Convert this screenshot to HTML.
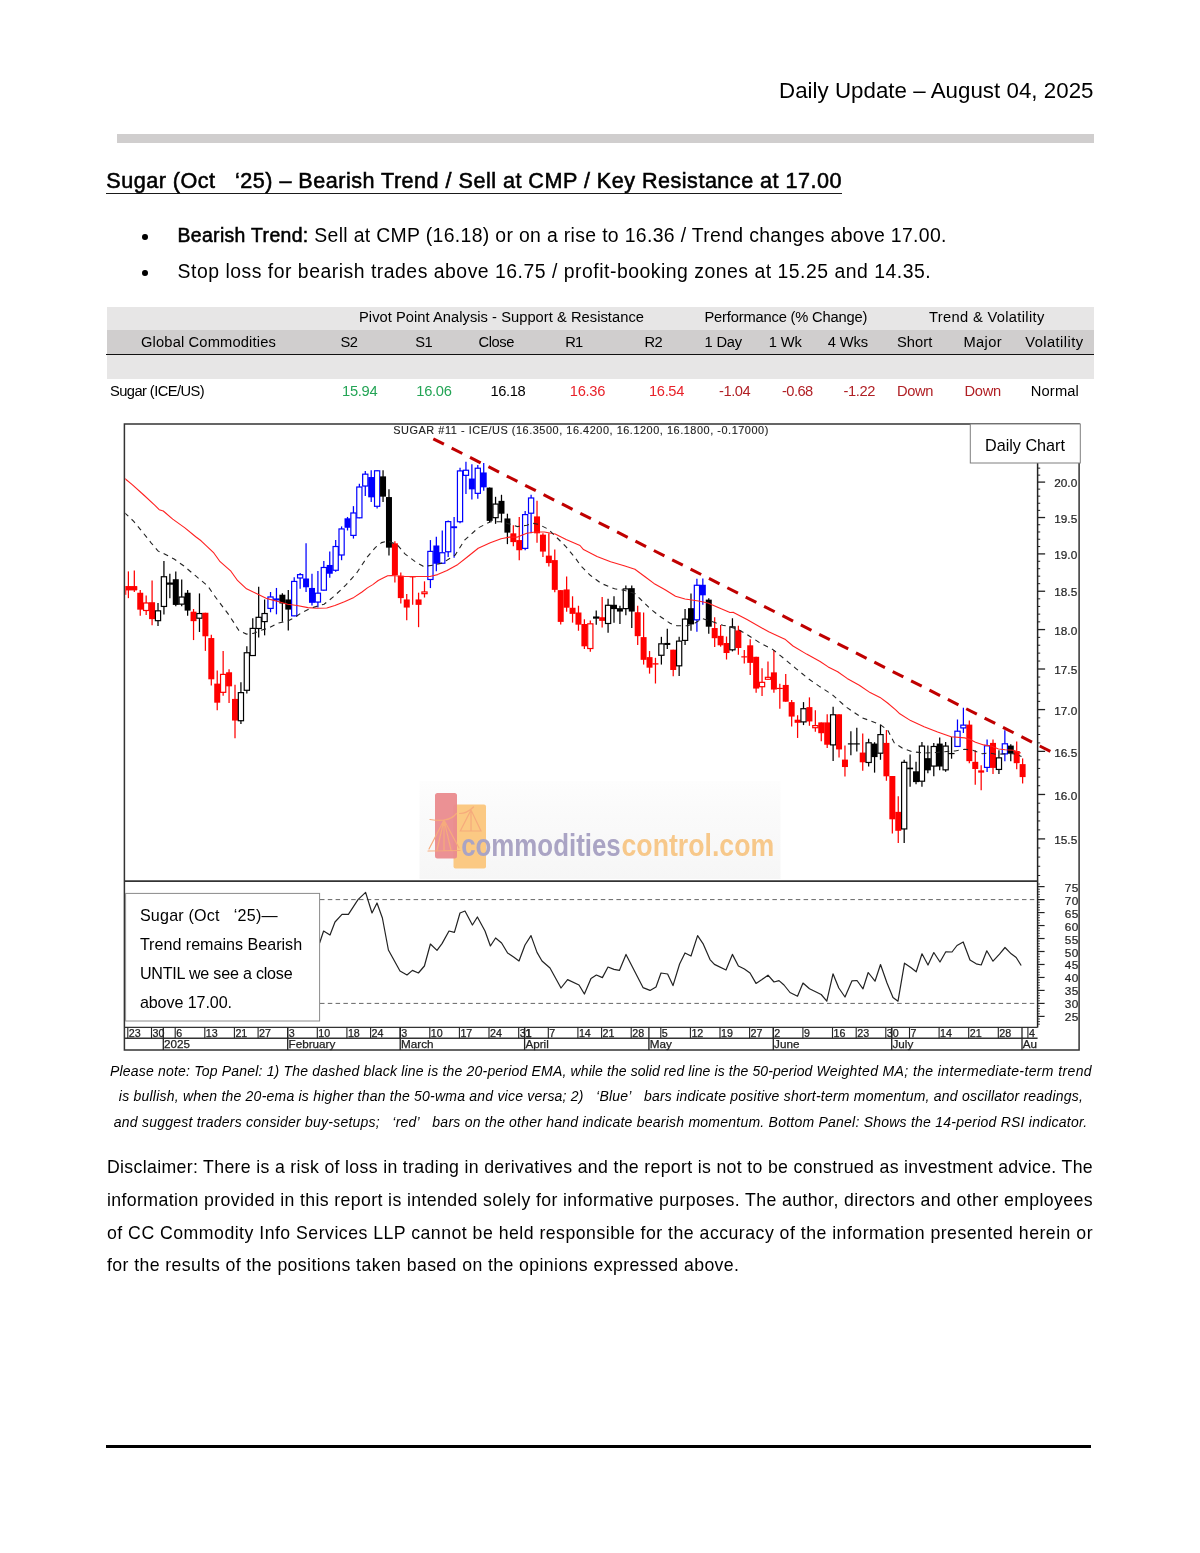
<!DOCTYPE html>
<html lang="en"><head><meta charset="utf-8"><title>Daily Update – August 04, 2025</title>
<style>
html,body{margin:0;padding:0;background:#fff;}
body{width:1200px;height:1553px;position:relative;overflow:hidden;font-family:"Liberation Sans", sans-serif;color:#000;}
.t{position:absolute;white-space:pre;line-height:normal;margin:0;padding:0;}
.r{position:absolute;}
#txt{position:absolute;left:0;top:0;width:1200px;height:1553px;will-change:transform;}
b,.sb{font-weight:400;-webkit-text-stroke:0.55px #000;}
</style></head>
<body>
<div class="r" style="left:117px;top:134px;width:977px;height:9px;background:#d0cece;"></div>
<div class="r" style="left:106.3px;top:192.5px;width:735.7px;height:1.25px;background:#1a1a1a;"></div>
<div class="r" style="left:107px;top:307px;width:987px;height:23px;background:#e7e6e6;"></div>
<div class="r" style="left:107px;top:330px;width:987px;height:24px;background:#d0cece;"></div>
<div class="r" style="left:106.3px;top:353.6px;width:987.7px;height:1.3999999999999773px;background:#111;"></div>
<div class="r" style="left:107px;top:355px;width:987px;height:23.69999999999999px;background:#e7e6e6;"></div>
<div class="r" style="left:142.4px;top:234.2px;width:5.8px;height:5.8px;border-radius:50%;background:#000;"></div>
<div class="r" style="left:142.4px;top:270.4px;width:5.8px;height:5.8px;border-radius:50%;background:#000;"></div>
<div class="r" style="left:106px;top:1445px;width:985px;height:3px;background:#000;"></div>
<svg width="1200" height="1553" viewBox="0 0 1200 1553" style="position:absolute;left:0;top:0;">
<rect x="124.4" y="424" width="954.7" height="626" fill="#fff" stroke="#333" stroke-width="1.5"/>
<filter id="wbl" x="-5%" y="-5%" width="110%" height="110%"><feGaussianBlur stdDeviation="0.55"/></filter>
<g>
<linearGradient id="wg" x1="0" y1="0" x2="0" y2="1"><stop offset="0" stop-color="#fdfdfd"/><stop offset="0.35" stop-color="#fafafa"/><stop offset="1" stop-color="#f6f6f6"/></linearGradient>
<rect x="419.5" y="781" width="361" height="98" fill="url(#wg)"/>
<g filter="url(#wbl)">
<rect x="453.5" y="804.5" width="32.5" height="64" rx="2" fill="#fbc983"/>
<rect x="435" y="793" width="22" height="65.5" rx="2.5" fill="#ea8b8e" fill-opacity="0.95"/>
<g fill="none" stroke="#f6ab7c" stroke-width="1.2" stroke-linecap="round">
<path d="M444 820 L444 850 M444 820 L429 849 M444 820 L459 848 M444 820 L437 850 M444 820 L451 850 M428 851 L460 850.5 M430 819.5 Q440 821 444 820 Q452 819 456.5 813.5"/>
<path d="M471 810 L471 830.5 M471 810 L460.3 831 L481 831 Z M459.5 813.5 Q467 813.5 473.5 807"/>
</g>
<text x="461.2" y="855.6" font-size="31.5" font-weight="700" fill="#aaa4c4" font-family="Liberation Sans, sans-serif" textLength="159.5" lengthAdjust="spacingAndGlyphs">commodities</text>
<text x="621.5" y="855.6" font-size="31.5" font-weight="700" fill="#f7c88a" font-family="Liberation Sans, sans-serif" textLength="152.7" lengthAdjust="spacingAndGlyphs">control.com</text>
</g>
</g>
<line x1="1037.6" y1="424" x2="1037.6" y2="1027.5" stroke="#222" stroke-width="1.5"/>
<line x1="124.3" y1="881.1" x2="1037.6" y2="881.1" stroke="#333" stroke-width="1.8"/>
<line x1="124.3" y1="1027.4" x2="1037.6" y2="1027.4" stroke="#333" stroke-width="1.4"/>
<line x1="124.3" y1="1038.2" x2="1037.6" y2="1038.2" stroke="#333" stroke-width="1.4"/>
<line x1="320" y1="899.6" x2="1037.6" y2="899.6" stroke="#666" stroke-width="1" stroke-dasharray="4.5,3.3"/>
<line x1="320" y1="1003.4" x2="1037.6" y2="1003.4" stroke="#666" stroke-width="1" stroke-dasharray="4.5,3.3"/>
<filter id="bl2" x="-2%" y="-2%" width="104%" height="104%"><feGaussianBlur stdDeviation="0.35"/></filter>
<g filter="url(#bl2)">
<line x1="1037.6" y1="875.50" x2="1040.1999999999998" y2="875.50" stroke="#222" stroke-width="1"/>
<line x1="1037.6" y1="866.26" x2="1040.1999999999998" y2="866.26" stroke="#222" stroke-width="1"/>
<line x1="1037.6" y1="857.08" x2="1040.1999999999998" y2="857.08" stroke="#222" stroke-width="1"/>
<line x1="1037.6" y1="847.96" x2="1040.1999999999998" y2="847.96" stroke="#222" stroke-width="1"/>
<line x1="1037.6" y1="838.90" x2="1045.1" y2="838.90" stroke="#222" stroke-width="1.3"/>
<text x="1054.2" y="844.10" font-size="11.8" fill="#222" stroke="#222" stroke-width="0.2" font-family="Liberation Sans, sans-serif" textLength="23">15.5</text>
<line x1="1037.6" y1="829.90" x2="1040.1999999999998" y2="829.90" stroke="#222" stroke-width="1"/>
<line x1="1037.6" y1="820.95" x2="1040.1999999999998" y2="820.95" stroke="#222" stroke-width="1"/>
<line x1="1037.6" y1="812.06" x2="1040.1999999999998" y2="812.06" stroke="#222" stroke-width="1"/>
<line x1="1037.6" y1="803.23" x2="1040.1999999999998" y2="803.23" stroke="#222" stroke-width="1"/>
<line x1="1037.6" y1="794.46" x2="1045.1" y2="794.46" stroke="#222" stroke-width="1.3"/>
<text x="1054.2" y="799.66" font-size="11.8" fill="#222" stroke="#222" stroke-width="0.2" font-family="Liberation Sans, sans-serif" textLength="23">16.0</text>
<line x1="1037.6" y1="785.73" x2="1040.1999999999998" y2="785.73" stroke="#222" stroke-width="1"/>
<line x1="1037.6" y1="777.07" x2="1040.1999999999998" y2="777.07" stroke="#222" stroke-width="1"/>
<line x1="1037.6" y1="768.45" x2="1040.1999999999998" y2="768.45" stroke="#222" stroke-width="1"/>
<line x1="1037.6" y1="759.89" x2="1040.1999999999998" y2="759.89" stroke="#222" stroke-width="1"/>
<line x1="1037.6" y1="751.38" x2="1045.1" y2="751.38" stroke="#222" stroke-width="1.3"/>
<text x="1054.2" y="756.58" font-size="11.8" fill="#222" stroke="#222" stroke-width="0.2" font-family="Liberation Sans, sans-serif" textLength="23">16.5</text>
<line x1="1037.6" y1="742.92" x2="1040.1999999999998" y2="742.92" stroke="#222" stroke-width="1"/>
<line x1="1037.6" y1="734.52" x2="1040.1999999999998" y2="734.52" stroke="#222" stroke-width="1"/>
<line x1="1037.6" y1="726.16" x2="1040.1999999999998" y2="726.16" stroke="#222" stroke-width="1"/>
<line x1="1037.6" y1="717.85" x2="1040.1999999999998" y2="717.85" stroke="#222" stroke-width="1"/>
<line x1="1037.6" y1="709.59" x2="1045.1" y2="709.59" stroke="#222" stroke-width="1.3"/>
<text x="1054.2" y="714.79" font-size="11.8" fill="#222" stroke="#222" stroke-width="0.2" font-family="Liberation Sans, sans-serif" textLength="23">17.0</text>
<line x1="1037.6" y1="701.38" x2="1040.1999999999998" y2="701.38" stroke="#222" stroke-width="1"/>
<line x1="1037.6" y1="693.22" x2="1040.1999999999998" y2="693.22" stroke="#222" stroke-width="1"/>
<line x1="1037.6" y1="685.11" x2="1040.1999999999998" y2="685.11" stroke="#222" stroke-width="1"/>
<line x1="1037.6" y1="677.04" x2="1040.1999999999998" y2="677.04" stroke="#222" stroke-width="1"/>
<line x1="1037.6" y1="669.02" x2="1045.1" y2="669.02" stroke="#222" stroke-width="1.3"/>
<text x="1054.2" y="674.22" font-size="11.8" fill="#222" stroke="#222" stroke-width="0.2" font-family="Liberation Sans, sans-serif" textLength="23">17.5</text>
<line x1="1037.6" y1="661.04" x2="1040.1999999999998" y2="661.04" stroke="#222" stroke-width="1"/>
<line x1="1037.6" y1="653.11" x2="1040.1999999999998" y2="653.11" stroke="#222" stroke-width="1"/>
<line x1="1037.6" y1="645.22" x2="1040.1999999999998" y2="645.22" stroke="#222" stroke-width="1"/>
<line x1="1037.6" y1="637.38" x2="1040.1999999999998" y2="637.38" stroke="#222" stroke-width="1"/>
<line x1="1037.6" y1="629.58" x2="1045.1" y2="629.58" stroke="#222" stroke-width="1.3"/>
<text x="1054.2" y="634.78" font-size="11.8" fill="#222" stroke="#222" stroke-width="0.2" font-family="Liberation Sans, sans-serif" textLength="23">18.0</text>
<line x1="1037.6" y1="621.83" x2="1040.1999999999998" y2="621.83" stroke="#222" stroke-width="1"/>
<line x1="1037.6" y1="614.12" x2="1040.1999999999998" y2="614.12" stroke="#222" stroke-width="1"/>
<line x1="1037.6" y1="606.45" x2="1040.1999999999998" y2="606.45" stroke="#222" stroke-width="1"/>
<line x1="1037.6" y1="598.82" x2="1040.1999999999998" y2="598.82" stroke="#222" stroke-width="1"/>
<line x1="1037.6" y1="591.23" x2="1045.1" y2="591.23" stroke="#222" stroke-width="1.3"/>
<text x="1054.2" y="596.43" font-size="11.8" fill="#222" stroke="#222" stroke-width="0.2" font-family="Liberation Sans, sans-serif" textLength="23">18.5</text>
<line x1="1037.6" y1="583.68" x2="1040.1999999999998" y2="583.68" stroke="#222" stroke-width="1"/>
<line x1="1037.6" y1="576.18" x2="1040.1999999999998" y2="576.18" stroke="#222" stroke-width="1"/>
<line x1="1037.6" y1="568.71" x2="1040.1999999999998" y2="568.71" stroke="#222" stroke-width="1"/>
<line x1="1037.6" y1="561.29" x2="1040.1999999999998" y2="561.29" stroke="#222" stroke-width="1"/>
<line x1="1037.6" y1="553.90" x2="1045.1" y2="553.90" stroke="#222" stroke-width="1.3"/>
<text x="1054.2" y="559.10" font-size="11.8" fill="#222" stroke="#222" stroke-width="0.2" font-family="Liberation Sans, sans-serif" textLength="23">19.0</text>
<line x1="1037.6" y1="546.55" x2="1040.1999999999998" y2="546.55" stroke="#222" stroke-width="1"/>
<line x1="1037.6" y1="539.24" x2="1040.1999999999998" y2="539.24" stroke="#222" stroke-width="1"/>
<line x1="1037.6" y1="531.97" x2="1040.1999999999998" y2="531.97" stroke="#222" stroke-width="1"/>
<line x1="1037.6" y1="524.74" x2="1040.1999999999998" y2="524.74" stroke="#222" stroke-width="1"/>
<line x1="1037.6" y1="517.54" x2="1045.1" y2="517.54" stroke="#222" stroke-width="1.3"/>
<text x="1054.2" y="522.74" font-size="11.8" fill="#222" stroke="#222" stroke-width="0.2" font-family="Liberation Sans, sans-serif" textLength="23">19.5</text>
<line x1="1037.6" y1="510.38" x2="1040.1999999999998" y2="510.38" stroke="#222" stroke-width="1"/>
<line x1="1037.6" y1="503.26" x2="1040.1999999999998" y2="503.26" stroke="#222" stroke-width="1"/>
<line x1="1037.6" y1="496.17" x2="1040.1999999999998" y2="496.17" stroke="#222" stroke-width="1"/>
<line x1="1037.6" y1="489.12" x2="1040.1999999999998" y2="489.12" stroke="#222" stroke-width="1"/>
<line x1="1037.6" y1="482.10" x2="1045.1" y2="482.10" stroke="#222" stroke-width="1.3"/>
<text x="1054.2" y="487.30" font-size="11.8" fill="#222" stroke="#222" stroke-width="0.2" font-family="Liberation Sans, sans-serif" textLength="23">20.0</text>
<line x1="1037.6" y1="475.12" x2="1040.1999999999998" y2="475.12" stroke="#222" stroke-width="1"/>
<line x1="1037.6" y1="468.17" x2="1040.1999999999998" y2="468.17" stroke="#222" stroke-width="1"/>
<line x1="1037.6" y1="1024.16" x2="1040.0" y2="1024.16" stroke="#222" stroke-width="0.8"/>
<line x1="1037.6" y1="1021.56" x2="1040.0" y2="1021.56" stroke="#222" stroke-width="0.8"/>
<line x1="1037.6" y1="1018.97" x2="1040.0" y2="1018.97" stroke="#222" stroke-width="0.8"/>
<line x1="1037.6" y1="1016.38" x2="1044.6" y2="1016.38" stroke="#222" stroke-width="1.2"/>
<text x="1064.8" y="1021.38" font-size="11.8" fill="#222" stroke="#222" stroke-width="0.2" font-family="Liberation Sans, sans-serif" textLength="13.5">25</text>
<line x1="1037.6" y1="1013.78" x2="1040.0" y2="1013.78" stroke="#222" stroke-width="0.8"/>
<line x1="1037.6" y1="1011.18" x2="1040.0" y2="1011.18" stroke="#222" stroke-width="0.8"/>
<line x1="1037.6" y1="1008.59" x2="1040.0" y2="1008.59" stroke="#222" stroke-width="0.8"/>
<line x1="1037.6" y1="1006.00" x2="1040.0" y2="1006.00" stroke="#222" stroke-width="0.8"/>
<line x1="1037.6" y1="1003.40" x2="1044.6" y2="1003.40" stroke="#222" stroke-width="1.2"/>
<text x="1064.8" y="1008.40" font-size="11.8" fill="#222" stroke="#222" stroke-width="0.2" font-family="Liberation Sans, sans-serif" textLength="13.5">30</text>
<line x1="1037.6" y1="1000.80" x2="1040.0" y2="1000.80" stroke="#222" stroke-width="0.8"/>
<line x1="1037.6" y1="998.21" x2="1040.0" y2="998.21" stroke="#222" stroke-width="0.8"/>
<line x1="1037.6" y1="995.62" x2="1040.0" y2="995.62" stroke="#222" stroke-width="0.8"/>
<line x1="1037.6" y1="993.02" x2="1040.0" y2="993.02" stroke="#222" stroke-width="0.8"/>
<line x1="1037.6" y1="990.42" x2="1044.6" y2="990.42" stroke="#222" stroke-width="1.2"/>
<text x="1064.8" y="995.42" font-size="11.8" fill="#222" stroke="#222" stroke-width="0.2" font-family="Liberation Sans, sans-serif" textLength="13.5">35</text>
<line x1="1037.6" y1="987.83" x2="1040.0" y2="987.83" stroke="#222" stroke-width="0.8"/>
<line x1="1037.6" y1="985.24" x2="1040.0" y2="985.24" stroke="#222" stroke-width="0.8"/>
<line x1="1037.6" y1="982.64" x2="1040.0" y2="982.64" stroke="#222" stroke-width="0.8"/>
<line x1="1037.6" y1="980.04" x2="1040.0" y2="980.04" stroke="#222" stroke-width="0.8"/>
<line x1="1037.6" y1="977.45" x2="1044.6" y2="977.45" stroke="#222" stroke-width="1.2"/>
<text x="1064.8" y="982.45" font-size="11.8" fill="#222" stroke="#222" stroke-width="0.2" font-family="Liberation Sans, sans-serif" textLength="13.5">40</text>
<line x1="1037.6" y1="974.86" x2="1040.0" y2="974.86" stroke="#222" stroke-width="0.8"/>
<line x1="1037.6" y1="972.26" x2="1040.0" y2="972.26" stroke="#222" stroke-width="0.8"/>
<line x1="1037.6" y1="969.66" x2="1040.0" y2="969.66" stroke="#222" stroke-width="0.8"/>
<line x1="1037.6" y1="967.07" x2="1040.0" y2="967.07" stroke="#222" stroke-width="0.8"/>
<line x1="1037.6" y1="964.48" x2="1044.6" y2="964.48" stroke="#222" stroke-width="1.2"/>
<text x="1064.8" y="969.48" font-size="11.8" fill="#222" stroke="#222" stroke-width="0.2" font-family="Liberation Sans, sans-serif" textLength="13.5">45</text>
<line x1="1037.6" y1="961.88" x2="1040.0" y2="961.88" stroke="#222" stroke-width="0.8"/>
<line x1="1037.6" y1="959.28" x2="1040.0" y2="959.28" stroke="#222" stroke-width="0.8"/>
<line x1="1037.6" y1="956.69" x2="1040.0" y2="956.69" stroke="#222" stroke-width="0.8"/>
<line x1="1037.6" y1="954.10" x2="1040.0" y2="954.10" stroke="#222" stroke-width="0.8"/>
<line x1="1037.6" y1="951.50" x2="1044.6" y2="951.50" stroke="#222" stroke-width="1.2"/>
<text x="1064.8" y="956.50" font-size="11.8" fill="#222" stroke="#222" stroke-width="0.2" font-family="Liberation Sans, sans-serif" textLength="13.5">50</text>
<line x1="1037.6" y1="948.90" x2="1040.0" y2="948.90" stroke="#222" stroke-width="0.8"/>
<line x1="1037.6" y1="946.31" x2="1040.0" y2="946.31" stroke="#222" stroke-width="0.8"/>
<line x1="1037.6" y1="943.72" x2="1040.0" y2="943.72" stroke="#222" stroke-width="0.8"/>
<line x1="1037.6" y1="941.12" x2="1040.0" y2="941.12" stroke="#222" stroke-width="0.8"/>
<line x1="1037.6" y1="938.52" x2="1044.6" y2="938.52" stroke="#222" stroke-width="1.2"/>
<text x="1064.8" y="943.52" font-size="11.8" fill="#222" stroke="#222" stroke-width="0.2" font-family="Liberation Sans, sans-serif" textLength="13.5">55</text>
<line x1="1037.6" y1="935.93" x2="1040.0" y2="935.93" stroke="#222" stroke-width="0.8"/>
<line x1="1037.6" y1="933.34" x2="1040.0" y2="933.34" stroke="#222" stroke-width="0.8"/>
<line x1="1037.6" y1="930.74" x2="1040.0" y2="930.74" stroke="#222" stroke-width="0.8"/>
<line x1="1037.6" y1="928.14" x2="1040.0" y2="928.14" stroke="#222" stroke-width="0.8"/>
<line x1="1037.6" y1="925.55" x2="1044.6" y2="925.55" stroke="#222" stroke-width="1.2"/>
<text x="1064.8" y="930.55" font-size="11.8" fill="#222" stroke="#222" stroke-width="0.2" font-family="Liberation Sans, sans-serif" textLength="13.5">60</text>
<line x1="1037.6" y1="922.96" x2="1040.0" y2="922.96" stroke="#222" stroke-width="0.8"/>
<line x1="1037.6" y1="920.36" x2="1040.0" y2="920.36" stroke="#222" stroke-width="0.8"/>
<line x1="1037.6" y1="917.76" x2="1040.0" y2="917.76" stroke="#222" stroke-width="0.8"/>
<line x1="1037.6" y1="915.17" x2="1040.0" y2="915.17" stroke="#222" stroke-width="0.8"/>
<line x1="1037.6" y1="912.58" x2="1044.6" y2="912.58" stroke="#222" stroke-width="1.2"/>
<text x="1064.8" y="917.58" font-size="11.8" fill="#222" stroke="#222" stroke-width="0.2" font-family="Liberation Sans, sans-serif" textLength="13.5">65</text>
<line x1="1037.6" y1="909.98" x2="1040.0" y2="909.98" stroke="#222" stroke-width="0.8"/>
<line x1="1037.6" y1="907.38" x2="1040.0" y2="907.38" stroke="#222" stroke-width="0.8"/>
<line x1="1037.6" y1="904.79" x2="1040.0" y2="904.79" stroke="#222" stroke-width="0.8"/>
<line x1="1037.6" y1="902.20" x2="1040.0" y2="902.20" stroke="#222" stroke-width="0.8"/>
<line x1="1037.6" y1="899.60" x2="1044.6" y2="899.60" stroke="#222" stroke-width="1.2"/>
<text x="1064.8" y="904.60" font-size="11.8" fill="#222" stroke="#222" stroke-width="0.2" font-family="Liberation Sans, sans-serif" textLength="13.5">70</text>
<line x1="1037.6" y1="897.00" x2="1040.0" y2="897.00" stroke="#222" stroke-width="0.8"/>
<line x1="1037.6" y1="894.41" x2="1040.0" y2="894.41" stroke="#222" stroke-width="0.8"/>
<line x1="1037.6" y1="891.82" x2="1040.0" y2="891.82" stroke="#222" stroke-width="0.8"/>
<line x1="1037.6" y1="889.22" x2="1040.0" y2="889.22" stroke="#222" stroke-width="0.8"/>
<line x1="1037.6" y1="886.62" x2="1044.6" y2="886.62" stroke="#222" stroke-width="1.2"/>
<text x="1064.8" y="891.62" font-size="11.8" fill="#222" stroke="#222" stroke-width="0.2" font-family="Liberation Sans, sans-serif" textLength="13.5">75</text>
<line x1="1037.6" y1="884.03" x2="1040.0" y2="884.03" stroke="#222" stroke-width="0.8"/>
<line x1="127.8" y1="1027.5" x2="127.8" y2="1038" stroke="#222" stroke-width="1.1"/>
<text x="128.8" y="1037.2" font-size="10.7" fill="#222" stroke="#222" stroke-width="0.25" font-family="Liberation Sans, sans-serif">23</text>
<line x1="151.5" y1="1027.5" x2="151.5" y2="1038" stroke="#222" stroke-width="1.1"/>
<text x="152.5" y="1037.2" font-size="10.7" fill="#222" stroke="#222" stroke-width="0.25" font-family="Liberation Sans, sans-serif">30</text>
<line x1="175.2" y1="1027.5" x2="175.2" y2="1038" stroke="#222" stroke-width="1.1"/>
<text x="176.2" y="1037.2" font-size="10.7" fill="#222" stroke="#222" stroke-width="0.25" font-family="Liberation Sans, sans-serif">6</text>
<line x1="204.8" y1="1027.5" x2="204.8" y2="1038" stroke="#222" stroke-width="1.1"/>
<text x="205.8" y="1037.2" font-size="10.7" fill="#222" stroke="#222" stroke-width="0.25" font-family="Liberation Sans, sans-serif">13</text>
<line x1="234.4" y1="1027.5" x2="234.4" y2="1038" stroke="#222" stroke-width="1.1"/>
<text x="235.4" y="1037.2" font-size="10.7" fill="#222" stroke="#222" stroke-width="0.25" font-family="Liberation Sans, sans-serif">21</text>
<line x1="258.1" y1="1027.5" x2="258.1" y2="1038" stroke="#222" stroke-width="1.1"/>
<text x="259.1" y="1037.2" font-size="10.7" fill="#222" stroke="#222" stroke-width="0.25" font-family="Liberation Sans, sans-serif">27</text>
<line x1="287.7" y1="1027.5" x2="287.7" y2="1038" stroke="#222" stroke-width="1.1"/>
<text x="288.7" y="1037.2" font-size="10.7" fill="#222" stroke="#222" stroke-width="0.25" font-family="Liberation Sans, sans-serif">3</text>
<line x1="317.3" y1="1027.5" x2="317.3" y2="1038" stroke="#222" stroke-width="1.1"/>
<text x="318.3" y="1037.2" font-size="10.7" fill="#222" stroke="#222" stroke-width="0.25" font-family="Liberation Sans, sans-serif">10</text>
<line x1="346.9" y1="1027.5" x2="346.9" y2="1038" stroke="#222" stroke-width="1.1"/>
<text x="347.9" y="1037.2" font-size="10.7" fill="#222" stroke="#222" stroke-width="0.25" font-family="Liberation Sans, sans-serif">18</text>
<line x1="370.6" y1="1027.5" x2="370.6" y2="1038" stroke="#222" stroke-width="1.1"/>
<text x="371.6" y="1037.2" font-size="10.7" fill="#222" stroke="#222" stroke-width="0.25" font-family="Liberation Sans, sans-serif">24</text>
<line x1="400.2" y1="1027.5" x2="400.2" y2="1038" stroke="#222" stroke-width="1.1"/>
<text x="401.2" y="1037.2" font-size="10.7" fill="#222" stroke="#222" stroke-width="0.25" font-family="Liberation Sans, sans-serif">3</text>
<line x1="429.8" y1="1027.5" x2="429.8" y2="1038" stroke="#222" stroke-width="1.1"/>
<text x="430.8" y="1037.2" font-size="10.7" fill="#222" stroke="#222" stroke-width="0.25" font-family="Liberation Sans, sans-serif">10</text>
<line x1="459.4" y1="1027.5" x2="459.4" y2="1038" stroke="#222" stroke-width="1.1"/>
<text x="460.4" y="1037.2" font-size="10.7" fill="#222" stroke="#222" stroke-width="0.25" font-family="Liberation Sans, sans-serif">17</text>
<line x1="489.0" y1="1027.5" x2="489.0" y2="1038" stroke="#222" stroke-width="1.1"/>
<text x="490.0" y="1037.2" font-size="10.7" fill="#222" stroke="#222" stroke-width="0.25" font-family="Liberation Sans, sans-serif">24</text>
<line x1="518.7" y1="1027.5" x2="518.7" y2="1038" stroke="#222" stroke-width="1.1"/>
<text x="519.7" y="1037.2" font-size="10.7" fill="#222" stroke="#222" stroke-width="0.25" font-family="Liberation Sans, sans-serif">31</text>
<line x1="524.6" y1="1027.5" x2="524.6" y2="1038" stroke="#222" stroke-width="1.1"/>
<text x="525.6" y="1037.2" font-size="10.7" fill="#222" stroke="#222" stroke-width="0.25" font-family="Liberation Sans, sans-serif">1</text>
<line x1="548.3" y1="1027.5" x2="548.3" y2="1038" stroke="#222" stroke-width="1.1"/>
<text x="549.3" y="1037.2" font-size="10.7" fill="#222" stroke="#222" stroke-width="0.25" font-family="Liberation Sans, sans-serif">7</text>
<line x1="577.9" y1="1027.5" x2="577.9" y2="1038" stroke="#222" stroke-width="1.1"/>
<text x="578.9" y="1037.2" font-size="10.7" fill="#222" stroke="#222" stroke-width="0.25" font-family="Liberation Sans, sans-serif">14</text>
<line x1="601.6" y1="1027.5" x2="601.6" y2="1038" stroke="#222" stroke-width="1.1"/>
<text x="602.6" y="1037.2" font-size="10.7" fill="#222" stroke="#222" stroke-width="0.25" font-family="Liberation Sans, sans-serif">21</text>
<line x1="631.2" y1="1027.5" x2="631.2" y2="1038" stroke="#222" stroke-width="1.1"/>
<text x="632.2" y="1037.2" font-size="10.7" fill="#222" stroke="#222" stroke-width="0.25" font-family="Liberation Sans, sans-serif">28</text>
<line x1="660.8" y1="1027.5" x2="660.8" y2="1038" stroke="#222" stroke-width="1.1"/>
<text x="661.8" y="1037.2" font-size="10.7" fill="#222" stroke="#222" stroke-width="0.25" font-family="Liberation Sans, sans-serif">5</text>
<line x1="690.4" y1="1027.5" x2="690.4" y2="1038" stroke="#222" stroke-width="1.1"/>
<text x="691.4" y="1037.2" font-size="10.7" fill="#222" stroke="#222" stroke-width="0.25" font-family="Liberation Sans, sans-serif">12</text>
<line x1="720.0" y1="1027.5" x2="720.0" y2="1038" stroke="#222" stroke-width="1.1"/>
<text x="721.0" y="1037.2" font-size="10.7" fill="#222" stroke="#222" stroke-width="0.25" font-family="Liberation Sans, sans-serif">19</text>
<line x1="749.6" y1="1027.5" x2="749.6" y2="1038" stroke="#222" stroke-width="1.1"/>
<text x="750.6" y="1037.2" font-size="10.7" fill="#222" stroke="#222" stroke-width="0.25" font-family="Liberation Sans, sans-serif">27</text>
<line x1="773.3" y1="1027.5" x2="773.3" y2="1038" stroke="#222" stroke-width="1.1"/>
<text x="774.3" y="1037.2" font-size="10.7" fill="#222" stroke="#222" stroke-width="0.25" font-family="Liberation Sans, sans-serif">2</text>
<line x1="802.9" y1="1027.5" x2="802.9" y2="1038" stroke="#222" stroke-width="1.1"/>
<text x="803.9" y="1037.2" font-size="10.7" fill="#222" stroke="#222" stroke-width="0.25" font-family="Liberation Sans, sans-serif">9</text>
<line x1="832.5" y1="1027.5" x2="832.5" y2="1038" stroke="#222" stroke-width="1.1"/>
<text x="833.5" y="1037.2" font-size="10.7" fill="#222" stroke="#222" stroke-width="0.25" font-family="Liberation Sans, sans-serif">16</text>
<line x1="856.2" y1="1027.5" x2="856.2" y2="1038" stroke="#222" stroke-width="1.1"/>
<text x="857.2" y="1037.2" font-size="10.7" fill="#222" stroke="#222" stroke-width="0.25" font-family="Liberation Sans, sans-serif">23</text>
<line x1="885.8" y1="1027.5" x2="885.8" y2="1038" stroke="#222" stroke-width="1.1"/>
<text x="886.8" y="1037.2" font-size="10.7" fill="#222" stroke="#222" stroke-width="0.25" font-family="Liberation Sans, sans-serif">30</text>
<line x1="891.7" y1="1027.5" x2="891.7" y2="1038" stroke="#222" stroke-width="1.1"/>
<line x1="909.5" y1="1027.5" x2="909.5" y2="1038" stroke="#222" stroke-width="1.1"/>
<text x="910.5" y="1037.2" font-size="10.7" fill="#222" stroke="#222" stroke-width="0.25" font-family="Liberation Sans, sans-serif">7</text>
<line x1="939.1" y1="1027.5" x2="939.1" y2="1038" stroke="#222" stroke-width="1.1"/>
<text x="940.1" y="1037.2" font-size="10.7" fill="#222" stroke="#222" stroke-width="0.25" font-family="Liberation Sans, sans-serif">14</text>
<line x1="968.7" y1="1027.5" x2="968.7" y2="1038" stroke="#222" stroke-width="1.1"/>
<text x="969.7" y="1037.2" font-size="10.7" fill="#222" stroke="#222" stroke-width="0.25" font-family="Liberation Sans, sans-serif">21</text>
<line x1="998.3" y1="1027.5" x2="998.3" y2="1038" stroke="#222" stroke-width="1.1"/>
<text x="999.3" y="1037.2" font-size="10.7" fill="#222" stroke="#222" stroke-width="0.25" font-family="Liberation Sans, sans-serif">28</text>
<line x1="1027.9" y1="1027.5" x2="1027.9" y2="1038" stroke="#222" stroke-width="1.1"/>
<text x="1028.9" y="1037.2" font-size="10.7" fill="#222" stroke="#222" stroke-width="0.25" font-family="Liberation Sans, sans-serif">4</text>
<line x1="163.3" y1="1027.5" x2="163.3" y2="1050" stroke="#222" stroke-width="1.3"/>
<text x="164.1" y="1048.4" font-size="11.7" fill="#222" stroke="#222" stroke-width="0.25" font-family="Liberation Sans, sans-serif">2025</text>
<line x1="287.7" y1="1027.5" x2="287.7" y2="1050" stroke="#222" stroke-width="1.3"/>
<text x="288.5" y="1048.4" font-size="11.7" fill="#222" stroke="#222" stroke-width="0.25" font-family="Liberation Sans, sans-serif">February</text>
<line x1="400.2" y1="1027.5" x2="400.2" y2="1050" stroke="#222" stroke-width="1.3"/>
<text x="401.0" y="1048.4" font-size="11.7" fill="#222" stroke="#222" stroke-width="0.25" font-family="Liberation Sans, sans-serif">March</text>
<line x1="524.6" y1="1027.5" x2="524.6" y2="1050" stroke="#222" stroke-width="1.3"/>
<text x="525.4" y="1048.4" font-size="11.7" fill="#222" stroke="#222" stroke-width="0.25" font-family="Liberation Sans, sans-serif">April</text>
<line x1="648.9" y1="1027.5" x2="648.9" y2="1050" stroke="#222" stroke-width="1.3"/>
<text x="649.7" y="1048.4" font-size="11.7" fill="#222" stroke="#222" stroke-width="0.25" font-family="Liberation Sans, sans-serif">May</text>
<line x1="773.3" y1="1027.5" x2="773.3" y2="1050" stroke="#222" stroke-width="1.3"/>
<text x="774.1" y="1048.4" font-size="11.7" fill="#222" stroke="#222" stroke-width="0.25" font-family="Liberation Sans, sans-serif">June</text>
<line x1="891.7" y1="1027.5" x2="891.7" y2="1050" stroke="#222" stroke-width="1.3"/>
<text x="892.5" y="1048.4" font-size="11.7" fill="#222" stroke="#222" stroke-width="0.25" font-family="Liberation Sans, sans-serif">July</text>
<line x1="1022.0" y1="1027.5" x2="1022.0" y2="1050" stroke="#222" stroke-width="1.3"/>
<text x="1022.8" y="1048.4" font-size="11.7" fill="#222" stroke="#222" stroke-width="0.25" font-family="Liberation Sans, sans-serif">Au</text>
<text x="393.3" y="433.8" font-size="10.9" fill="#222" stroke="#222" stroke-width="0.12" font-family="Liberation Sans, sans-serif" textLength="375">SUGAR #11 - ICE/US (16.3500, 16.4200, 16.1200, 16.1800, -0.17000)</text></g>
<clipPath id="pc"><rect x="125.3" y="425" width="911.5999999999999" height="455"/></clipPath>
<filter id="bl" x="-2%" y="-2%" width="104%" height="104%"><feGaussianBlur stdDeviation="0.45"/></filter>
<g clip-path="url(#pc)"><g filter="url(#bl)">
<rect x="125" y="586.2" width="12" height="4.2" fill="#ff0000"/><rect x="125" y="586.2" width="1.3" height="8.6" fill="#ff0000"/>
<line x1="128.40" y1="571.38" x2="128.40" y2="598.16" stroke="#ff0000" stroke-width="1.25"/>
<rect x="125.40" y="586.25" width="6.00" height="3.79" fill="#ff0000"/>
<line x1="134.32" y1="570.43" x2="134.32" y2="592.07" stroke="#ff0000" stroke-width="1.25"/>
<rect x="131.32" y="586.25" width="6.00" height="3.79" fill="#ff0000"/>
<line x1="140.24" y1="590.04" x2="140.24" y2="615.74" stroke="#ff0000" stroke-width="1.25"/>
<rect x="137.24" y="592.75" width="6.00" height="16.91" fill="#ff0000"/>
<line x1="146.17" y1="595.45" x2="146.17" y2="615.06" stroke="#ff0000" stroke-width="1.25"/>
<rect x="143.57" y="602.98" width="5.20" height="7.52" fill="#fff" stroke="#ff0000" stroke-width="1.2"/>
<line x1="152.09" y1="580.57" x2="152.09" y2="625.20" stroke="#ff0000" stroke-width="1.25"/>
<rect x="149.09" y="602.21" width="6.00" height="16.91" fill="#ff0000"/>
<line x1="158.01" y1="602.89" x2="158.01" y2="625.88" stroke="#000000" stroke-width="1.25"/>
<rect x="155.41" y="610.83" width="5.20" height="9.82" fill="#fff" stroke="#000000" stroke-width="1.2"/>
<line x1="163.93" y1="560.96" x2="163.93" y2="614.38" stroke="#000000" stroke-width="1.25"/>
<rect x="161.33" y="576.75" width="5.20" height="29.70" fill="#fff" stroke="#000000" stroke-width="1.2"/>
<line x1="169.85" y1="573.81" x2="169.85" y2="598.16" stroke="#000000" stroke-width="1.25"/>
<rect x="167.25" y="583.10" width="5.20" height="1.03" fill="#fff" stroke="#000000" stroke-width="1.2"/>
<line x1="175.78" y1="571.38" x2="175.78" y2="606.27" stroke="#000000" stroke-width="1.25"/>
<rect x="172.78" y="579.22" width="6.00" height="25.70" fill="#000000"/>
<line x1="181.70" y1="579.49" x2="181.70" y2="606.27" stroke="#000000" stroke-width="1.25"/>
<rect x="179.10" y="597.03" width="5.20" height="7.11" fill="#fff" stroke="#000000" stroke-width="1.2"/>
<line x1="187.62" y1="590.04" x2="187.62" y2="615.74" stroke="#000000" stroke-width="1.25"/>
<rect x="184.62" y="592.75" width="6.00" height="17.85" fill="#000000"/>
<line x1="193.54" y1="608.97" x2="193.54" y2="640.08" stroke="#ff0000" stroke-width="1.25"/>
<rect x="190.54" y="611.68" width="6.00" height="9.47" fill="#ff0000"/>
<line x1="199.46" y1="593.42" x2="199.46" y2="631.97" stroke="#000000" stroke-width="1.25"/>
<rect x="196.86" y="613.53" width="5.20" height="4.68" fill="#fff" stroke="#000000" stroke-width="1.2"/>
<line x1="205.39" y1="612.76" x2="205.39" y2="650.90" stroke="#ff0000" stroke-width="1.25"/>
<rect x="202.39" y="612.76" width="6.00" height="23.53" fill="#ff0000"/>
<line x1="211.31" y1="634.67" x2="211.31" y2="685.39" stroke="#ff0000" stroke-width="1.25"/>
<rect x="208.31" y="638.05" width="6.00" height="41.25" fill="#ff0000"/>
<line x1="217.23" y1="670.51" x2="217.23" y2="710.14" stroke="#ff0000" stroke-width="1.25"/>
<rect x="214.23" y="683.63" width="6.00" height="19.07" fill="#ff0000"/>
<line x1="223.15" y1="650.90" x2="223.15" y2="695.80" stroke="#ff0000" stroke-width="1.25"/>
<rect x="220.55" y="674.39" width="5.20" height="17.93" fill="#fff" stroke="#ff0000" stroke-width="1.2"/>
<line x1="229.07" y1="669.16" x2="229.07" y2="702.97" stroke="#ff0000" stroke-width="1.25"/>
<rect x="226.07" y="672.27" width="6.00" height="14.07" fill="#ff0000"/>
<line x1="235.00" y1="684.71" x2="235.00" y2="738.13" stroke="#ff0000" stroke-width="1.25"/>
<rect x="232.00" y="698.91" width="6.00" height="21.64" fill="#ff0000"/>
<line x1="240.92" y1="682.28" x2="240.92" y2="723.93" stroke="#000000" stroke-width="1.25"/>
<rect x="238.32" y="692.65" width="5.20" height="28.08" fill="#fff" stroke="#000000" stroke-width="1.2"/>
<line x1="246.84" y1="646.17" x2="246.84" y2="693.50" stroke="#000000" stroke-width="1.25"/>
<rect x="244.24" y="652.75" width="5.20" height="37.54" fill="#fff" stroke="#000000" stroke-width="1.2"/>
<line x1="252.76" y1="618.17" x2="252.76" y2="656.04" stroke="#000000" stroke-width="1.25"/>
<rect x="250.16" y="628.41" width="5.20" height="27.13" fill="#fff" stroke="#000000" stroke-width="1.2"/>
<line x1="258.68" y1="586.66" x2="258.68" y2="637.38" stroke="#000000" stroke-width="1.25"/>
<rect x="256.08" y="617.32" width="5.20" height="11.17" fill="#fff" stroke="#000000" stroke-width="1.2"/>
<line x1="264.61" y1="599.51" x2="264.61" y2="635.35" stroke="#000000" stroke-width="1.25"/>
<rect x="262.01" y="613.53" width="5.20" height="8.06" fill="#fff" stroke="#000000" stroke-width="1.2"/>
<line x1="270.53" y1="592.01" x2="270.53" y2="612.29" stroke="#0000ff" stroke-width="1.25"/>
<rect x="267.93" y="596.97" width="5.20" height="11.44" fill="#fff" stroke="#0000ff" stroke-width="1.2"/>
<line x1="276.45" y1="587.95" x2="276.45" y2="614.32" stroke="#0000ff" stroke-width="1.25"/>
<rect x="273.85" y="599.00" width="5.20" height="0.89" fill="#fff" stroke="#0000ff" stroke-width="1.2"/>
<line x1="282.37" y1="593.36" x2="282.37" y2="621.76" stroke="#000000" stroke-width="1.25"/>
<rect x="279.37" y="594.71" width="6.00" height="8.79" fill="#000000"/>
<line x1="288.29" y1="589.98" x2="288.29" y2="630.55" stroke="#000000" stroke-width="1.25"/>
<rect x="285.29" y="599.45" width="6.00" height="10.14" fill="#000000"/>
<line x1="294.22" y1="577.13" x2="294.22" y2="616.35" stroke="#0000ff" stroke-width="1.25"/>
<rect x="291.62" y="581.42" width="5.20" height="34.43" fill="#fff" stroke="#0000ff" stroke-width="1.2"/>
<line x1="300.14" y1="573.07" x2="300.14" y2="588.63" stroke="#0000ff" stroke-width="1.25"/>
<rect x="297.54" y="574.65" width="5.20" height="3.33" fill="#fff" stroke="#0000ff" stroke-width="1.2"/>
<line x1="306.06" y1="543.32" x2="306.06" y2="592.01" stroke="#0000ff" stroke-width="1.25"/>
<rect x="303.06" y="578.48" width="6.00" height="8.79" fill="#0000ff"/>
<line x1="311.98" y1="573.75" x2="311.98" y2="605.53" stroke="#0000ff" stroke-width="1.25"/>
<rect x="308.98" y="587.95" width="6.00" height="14.88" fill="#0000ff"/>
<line x1="317.90" y1="571.04" x2="317.90" y2="607.56" stroke="#0000ff" stroke-width="1.25"/>
<rect x="315.30" y="593.18" width="5.20" height="8.87" fill="#fff" stroke="#0000ff" stroke-width="1.2"/>
<line x1="323.83" y1="560.90" x2="323.83" y2="590.65" stroke="#0000ff" stroke-width="1.25"/>
<rect x="321.23" y="567.49" width="5.20" height="22.67" fill="#fff" stroke="#0000ff" stroke-width="1.2"/>
<line x1="329.75" y1="551.43" x2="329.75" y2="577.81" stroke="#0000ff" stroke-width="1.25"/>
<rect x="326.75" y="564.96" width="6.00" height="8.79" fill="#0000ff"/>
<line x1="335.67" y1="539.94" x2="335.67" y2="571.72" stroke="#0000ff" stroke-width="1.25"/>
<rect x="333.07" y="546.52" width="5.20" height="23.75" fill="#fff" stroke="#0000ff" stroke-width="1.2"/>
<line x1="341.59" y1="526.41" x2="341.59" y2="560.22" stroke="#0000ff" stroke-width="1.25"/>
<rect x="338.99" y="528.94" width="5.20" height="26.05" fill="#fff" stroke="#0000ff" stroke-width="1.2"/>
<line x1="347.51" y1="516.95" x2="347.51" y2="530.47" stroke="#0000ff" stroke-width="1.25"/>
<rect x="344.51" y="518.30" width="6.00" height="9.47" fill="#0000ff"/>
<line x1="353.44" y1="506.13" x2="353.44" y2="538.59" stroke="#0000ff" stroke-width="1.25"/>
<rect x="350.84" y="512.98" width="5.20" height="22.40" fill="#fff" stroke="#0000ff" stroke-width="1.2"/>
<line x1="359.36" y1="483.81" x2="359.36" y2="518.30" stroke="#0000ff" stroke-width="1.25"/>
<rect x="356.76" y="487.02" width="5.20" height="30.78" fill="#fff" stroke="#0000ff" stroke-width="1.2"/>
<line x1="365.28" y1="470.96" x2="365.28" y2="495.98" stroke="#0000ff" stroke-width="1.25"/>
<rect x="362.68" y="474.17" width="5.20" height="11.85" fill="#fff" stroke="#0000ff" stroke-width="1.2"/>
<line x1="371.20" y1="470.29" x2="371.20" y2="502.07" stroke="#0000ff" stroke-width="1.25"/>
<rect x="368.20" y="477.05" width="6.00" height="20.29" fill="#0000ff"/>
<line x1="377.12" y1="470.29" x2="377.12" y2="508.43" stroke="#0000ff" stroke-width="1.25"/>
<rect x="374.52" y="470.79" width="5.20" height="35.52" fill="#fff" stroke="#0000ff" stroke-width="1.2"/>
<line x1="383.05" y1="470.29" x2="383.05" y2="502.07" stroke="#000000" stroke-width="1.25"/>
<rect x="380.05" y="476.37" width="6.00" height="20.29" fill="#000000"/>
<line x1="388.97" y1="489.22" x2="388.97" y2="555.49" stroke="#000000" stroke-width="1.25"/>
<rect x="385.97" y="497.07" width="6.00" height="50.58" fill="#000000"/>
<line x1="394.89" y1="541.29" x2="394.89" y2="582.54" stroke="#ff0000" stroke-width="1.25"/>
<rect x="391.89" y="543.32" width="6.00" height="31.78" fill="#ff0000"/>
<line x1="400.81" y1="572.40" x2="400.81" y2="603.50" stroke="#ff0000" stroke-width="1.25"/>
<rect x="397.81" y="575.78" width="6.00" height="22.32" fill="#ff0000"/>
<line x1="406.73" y1="594.04" x2="406.73" y2="620.14" stroke="#ff0000" stroke-width="1.25"/>
<rect x="403.73" y="599.45" width="6.00" height="8.11" fill="#ff0000"/>
<line x1="412.66" y1="576.45" x2="412.66" y2="604.86" stroke="#ff0000" stroke-width="1.25"/>
<rect x="409.66" y="576.19" width="6.00" height="1.20" fill="#ff0000"/>
<line x1="418.58" y1="592.68" x2="418.58" y2="627.17" stroke="#ff0000" stroke-width="1.25"/>
<rect x="415.58" y="599.45" width="6.00" height="5.41" fill="#ff0000"/>
<line x1="424.50" y1="581.33" x2="424.50" y2="597.56" stroke="#ff0000" stroke-width="1.25"/>
<rect x="421.90" y="591.97" width="5.20" height="1.70" fill="#fff" stroke="#ff0000" stroke-width="1.2"/>
<line x1="430.42" y1="540.08" x2="430.42" y2="588.09" stroke="#0000ff" stroke-width="1.25"/>
<rect x="427.82" y="551.40" width="5.20" height="28.08" fill="#fff" stroke="#0000ff" stroke-width="1.2"/>
<line x1="436.34" y1="536.70" x2="436.34" y2="571.19" stroke="#0000ff" stroke-width="1.25"/>
<rect x="433.34" y="545.49" width="6.00" height="18.26" fill="#0000ff"/>
<line x1="442.27" y1="530.61" x2="442.27" y2="563.75" stroke="#0000ff" stroke-width="1.25"/>
<rect x="439.67" y="552.75" width="5.20" height="10.50" fill="#fff" stroke="#0000ff" stroke-width="1.2"/>
<line x1="448.19" y1="520.47" x2="448.19" y2="556.99" stroke="#0000ff" stroke-width="1.25"/>
<rect x="445.59" y="521.65" width="5.20" height="30.11" fill="#fff" stroke="#0000ff" stroke-width="1.2"/>
<line x1="454.11" y1="517.09" x2="454.11" y2="557.66" stroke="#0000ff" stroke-width="1.25"/>
<rect x="451.11" y="526.29" width="6.00" height="1.89" fill="#0000ff"/>
<line x1="460.03" y1="467.73" x2="460.03" y2="523.18" stroke="#0000ff" stroke-width="1.25"/>
<rect x="457.43" y="470.93" width="5.20" height="50.80" fill="#fff" stroke="#0000ff" stroke-width="1.2"/>
<line x1="465.95" y1="461.64" x2="465.95" y2="494.10" stroke="#0000ff" stroke-width="1.25"/>
<rect x="463.35" y="470.25" width="5.20" height="5.09" fill="#fff" stroke="#0000ff" stroke-width="1.2"/>
<line x1="471.88" y1="464.34" x2="471.88" y2="499.51" stroke="#0000ff" stroke-width="1.25"/>
<rect x="468.88" y="478.54" width="6.00" height="10.82" fill="#0000ff"/>
<line x1="477.80" y1="465.02" x2="477.80" y2="498.83" stroke="#0000ff" stroke-width="1.25"/>
<rect x="475.20" y="468.23" width="5.20" height="25.10" fill="#fff" stroke="#0000ff" stroke-width="1.2"/>
<line x1="483.72" y1="462.99" x2="483.72" y2="490.72" stroke="#0000ff" stroke-width="1.25"/>
<rect x="480.72" y="472.46" width="6.00" height="14.88" fill="#0000ff"/>
<line x1="489.64" y1="487.61" x2="489.64" y2="522.50" stroke="#000000" stroke-width="1.25"/>
<rect x="486.64" y="487.61" width="6.00" height="33.27" fill="#000000"/>
<line x1="495.56" y1="496.80" x2="495.56" y2="523.85" stroke="#000000" stroke-width="1.25"/>
<rect x="492.96" y="504.07" width="5.20" height="13.61" fill="#fff" stroke="#000000" stroke-width="1.2"/>
<line x1="501.49" y1="494.77" x2="501.49" y2="522.50" stroke="#000000" stroke-width="1.25"/>
<rect x="498.49" y="500.86" width="6.00" height="12.85" fill="#000000"/>
<line x1="507.41" y1="513.71" x2="507.41" y2="544.14" stroke="#000000" stroke-width="1.25"/>
<rect x="504.41" y="518.44" width="6.00" height="14.20" fill="#000000"/>
<line x1="513.33" y1="525.20" x2="513.33" y2="546.17" stroke="#ff0000" stroke-width="1.25"/>
<rect x="510.33" y="533.32" width="6.00" height="8.79" fill="#ff0000"/>
<line x1="519.25" y1="517.09" x2="519.25" y2="560.37" stroke="#ff0000" stroke-width="1.25"/>
<rect x="516.25" y="540.08" width="6.00" height="10.14" fill="#ff0000"/>
<line x1="525.17" y1="511.00" x2="525.17" y2="550.22" stroke="#0000ff" stroke-width="1.25"/>
<rect x="522.57" y="514.61" width="5.20" height="33.76" fill="#fff" stroke="#0000ff" stroke-width="1.2"/>
<line x1="531.10" y1="494.77" x2="531.10" y2="533.32" stroke="#0000ff" stroke-width="1.25"/>
<rect x="528.50" y="497.98" width="5.20" height="15.23" fill="#fff" stroke="#0000ff" stroke-width="1.2"/>
<line x1="537.02" y1="500.86" x2="537.02" y2="542.79" stroke="#ff0000" stroke-width="1.25"/>
<rect x="534.02" y="516.41" width="6.00" height="16.91" fill="#ff0000"/>
<line x1="542.94" y1="533.32" x2="542.94" y2="556.99" stroke="#ff0000" stroke-width="1.25"/>
<rect x="539.94" y="534.67" width="6.00" height="16.91" fill="#ff0000"/>
<line x1="548.86" y1="533.32" x2="548.86" y2="566.45" stroke="#ff0000" stroke-width="1.25"/>
<rect x="545.86" y="555.63" width="6.00" height="7.44" fill="#ff0000"/>
<line x1="554.78" y1="549.55" x2="554.78" y2="592.15" stroke="#ff0000" stroke-width="1.25"/>
<rect x="551.78" y="560.10" width="6.00" height="29.75" fill="#ff0000"/>
<line x1="560.71" y1="590.12" x2="560.71" y2="624.61" stroke="#ff0000" stroke-width="1.25"/>
<rect x="557.71" y="590.12" width="6.00" height="31.78" fill="#ff0000"/>
<line x1="566.63" y1="576.60" x2="566.63" y2="611.76" stroke="#ff0000" stroke-width="1.25"/>
<rect x="563.63" y="589.45" width="6.00" height="18.26" fill="#ff0000"/>
<line x1="572.55" y1="596.27" x2="572.55" y2="622.64" stroke="#ff0000" stroke-width="1.25"/>
<rect x="569.55" y="607.77" width="6.00" height="6.09" fill="#ff0000"/>
<line x1="578.47" y1="605.74" x2="578.47" y2="630.76" stroke="#ff0000" stroke-width="1.25"/>
<rect x="575.47" y="612.50" width="6.00" height="12.17" fill="#ff0000"/>
<line x1="584.39" y1="619.26" x2="584.39" y2="649.02" stroke="#ff0000" stroke-width="1.25"/>
<rect x="581.39" y="624.00" width="6.00" height="22.32" fill="#ff0000"/>
<line x1="590.32" y1="620.61" x2="590.32" y2="651.72" stroke="#ff0000" stroke-width="1.25"/>
<rect x="587.72" y="623.82" width="5.20" height="24.70" fill="#fff" stroke="#ff0000" stroke-width="1.2"/>
<line x1="596.24" y1="610.47" x2="596.24" y2="624.67" stroke="#000000" stroke-width="1.25"/>
<rect x="593.64" y="617.06" width="5.20" height="1.03" fill="#fff" stroke="#000000" stroke-width="1.2"/>
<line x1="602.16" y1="596.95" x2="602.16" y2="627.38" stroke="#ff0000" stroke-width="1.25"/>
<rect x="599.16" y="617.23" width="6.00" height="3.65" fill="#ff0000"/>
<line x1="608.08" y1="598.70" x2="608.08" y2="632.79" stroke="#000000" stroke-width="1.25"/>
<rect x="605.48" y="605.29" width="5.20" height="18.20" fill="#fff" stroke="#000000" stroke-width="1.2"/>
<line x1="614.00" y1="596.27" x2="614.00" y2="622.64" stroke="#000000" stroke-width="1.25"/>
<rect x="611.00" y="604.79" width="6.00" height="4.33" fill="#000000"/>
<line x1="619.93" y1="605.74" x2="619.93" y2="624.00" stroke="#000000" stroke-width="1.25"/>
<rect x="616.93" y="608.17" width="6.00" height="3.38" fill="#000000"/>
<line x1="625.85" y1="585.45" x2="625.85" y2="615.20" stroke="#000000" stroke-width="1.25"/>
<rect x="623.25" y="588.93" width="5.20" height="19.69" fill="#fff" stroke="#000000" stroke-width="1.2"/>
<line x1="631.77" y1="585.45" x2="631.77" y2="628.05" stroke="#000000" stroke-width="1.25"/>
<rect x="628.77" y="588.16" width="6.00" height="23.40" fill="#000000"/>
<line x1="637.69" y1="605.74" x2="637.69" y2="644.96" stroke="#ff0000" stroke-width="1.25"/>
<rect x="634.69" y="612.23" width="6.00" height="23.94" fill="#ff0000"/>
<line x1="643.61" y1="612.50" x2="643.61" y2="664.57" stroke="#ff0000" stroke-width="1.25"/>
<rect x="640.61" y="637.11" width="6.00" height="22.72" fill="#ff0000"/>
<line x1="649.54" y1="651.04" x2="649.54" y2="673.63" stroke="#ff0000" stroke-width="1.25"/>
<rect x="646.54" y="657.13" width="6.00" height="10.55" fill="#ff0000"/>
<line x1="655.46" y1="657.81" x2="655.46" y2="683.50" stroke="#ff0000" stroke-width="1.25"/>
<rect x="652.46" y="663.22" width="6.00" height="1.35" fill="#ff0000"/>
<line x1="661.38" y1="636.84" x2="661.38" y2="664.57" stroke="#000000" stroke-width="1.25"/>
<rect x="658.78" y="643.84" width="5.20" height="11.44" fill="#fff" stroke="#000000" stroke-width="1.2"/>
<line x1="667.30" y1="628.73" x2="667.30" y2="649.02" stroke="#000000" stroke-width="1.25"/>
<rect x="664.30" y="642.93" width="6.00" height="2.03" fill="#000000"/>
<line x1="673.22" y1="649.69" x2="673.22" y2="676.33" stroke="#ff0000" stroke-width="1.25"/>
<rect x="670.22" y="649.69" width="6.00" height="20.29" fill="#ff0000"/>
<line x1="679.15" y1="636.84" x2="679.15" y2="676.06" stroke="#000000" stroke-width="1.25"/>
<rect x="676.55" y="641.13" width="5.20" height="24.70" fill="#fff" stroke="#000000" stroke-width="1.2"/>
<line x1="685.07" y1="609.12" x2="685.07" y2="644.96" stroke="#000000" stroke-width="1.25"/>
<rect x="682.47" y="619.09" width="5.20" height="21.32" fill="#fff" stroke="#000000" stroke-width="1.2"/>
<line x1="690.99" y1="593.57" x2="690.99" y2="630.76" stroke="#000000" stroke-width="1.25"/>
<rect x="687.99" y="608.17" width="6.00" height="16.23" fill="#000000"/>
<line x1="696.91" y1="578.69" x2="696.91" y2="631.70" stroke="#0000ff" stroke-width="1.25"/>
<rect x="694.31" y="585.27" width="5.20" height="34.57" fill="#fff" stroke="#0000ff" stroke-width="1.2"/>
<line x1="702.83" y1="578.42" x2="702.83" y2="604.66" stroke="#0000ff" stroke-width="1.25"/>
<rect x="699.83" y="584.77" width="6.00" height="10.55" fill="#0000ff"/>
<line x1="708.76" y1="598.30" x2="708.76" y2="633.87" stroke="#000000" stroke-width="1.25"/>
<rect x="705.76" y="599.65" width="6.00" height="27.05" fill="#000000"/>
<line x1="714.68" y1="617.23" x2="714.68" y2="646.99" stroke="#ff0000" stroke-width="1.25"/>
<rect x="711.68" y="628.05" width="6.00" height="10.14" fill="#ff0000"/>
<line x1="720.60" y1="625.02" x2="720.60" y2="646.66" stroke="#ff0000" stroke-width="1.25"/>
<rect x="717.60" y="635.84" width="6.00" height="9.47" fill="#ff0000"/>
<line x1="726.52" y1="636.52" x2="726.52" y2="659.51" stroke="#ff0000" stroke-width="1.25"/>
<rect x="723.52" y="643.01" width="6.00" height="10.01" fill="#ff0000"/>
<line x1="732.44" y1="618.26" x2="732.44" y2="651.39" stroke="#000000" stroke-width="1.25"/>
<rect x="729.84" y="626.87" width="5.20" height="22.94" fill="#fff" stroke="#000000" stroke-width="1.2"/>
<line x1="738.37" y1="625.70" x2="738.37" y2="654.77" stroke="#ff0000" stroke-width="1.25"/>
<rect x="735.37" y="630.43" width="6.00" height="17.58" fill="#ff0000"/>
<line x1="744.29" y1="650.04" x2="744.29" y2="663.57" stroke="#ff0000" stroke-width="1.25"/>
<rect x="741.29" y="656.27" width="6.00" height="1.20" fill="#ff0000"/>
<line x1="750.21" y1="639.22" x2="750.21" y2="675.06" stroke="#ff0000" stroke-width="1.25"/>
<rect x="747.21" y="645.31" width="6.00" height="17.58" fill="#ff0000"/>
<line x1="756.13" y1="656.80" x2="756.13" y2="692.64" stroke="#ff0000" stroke-width="1.25"/>
<rect x="753.13" y="656.80" width="6.00" height="31.78" fill="#ff0000"/>
<line x1="762.05" y1="668.30" x2="762.05" y2="696.02" stroke="#ff0000" stroke-width="1.25"/>
<rect x="759.45" y="682.32" width="5.20" height="4.41" fill="#fff" stroke="#ff0000" stroke-width="1.2"/>
<line x1="767.98" y1="661.54" x2="767.98" y2="679.79" stroke="#ff0000" stroke-width="1.25"/>
<rect x="765.38" y="677.32" width="5.20" height="1.98" fill="#fff" stroke="#ff0000" stroke-width="1.2"/>
<line x1="773.90" y1="650.04" x2="773.90" y2="692.64" stroke="#ff0000" stroke-width="1.25"/>
<rect x="770.90" y="672.36" width="6.00" height="17.18" fill="#ff0000"/>
<line x1="779.82" y1="683.85" x2="779.82" y2="708.87" stroke="#ff0000" stroke-width="1.25"/>
<rect x="776.82" y="687.85" width="6.00" height="1.20" fill="#ff0000"/>
<line x1="785.74" y1="674.11" x2="785.74" y2="701.70" stroke="#ff0000" stroke-width="1.25"/>
<rect x="782.74" y="684.93" width="6.00" height="16.77" fill="#ff0000"/>
<line x1="791.66" y1="700.08" x2="791.66" y2="726.45" stroke="#ff0000" stroke-width="1.25"/>
<rect x="788.66" y="702.11" width="6.00" height="14.47" fill="#ff0000"/>
<line x1="797.59" y1="715.23" x2="797.59" y2="737.95" stroke="#ff0000" stroke-width="1.25"/>
<rect x="794.59" y="719.69" width="6.00" height="3.11" fill="#ff0000"/>
<line x1="803.51" y1="702.11" x2="803.51" y2="725.10" stroke="#000000" stroke-width="1.25"/>
<rect x="800.91" y="708.70" width="5.20" height="13.20" fill="#fff" stroke="#000000" stroke-width="1.2"/>
<line x1="809.43" y1="697.38" x2="809.43" y2="725.78" stroke="#ff0000" stroke-width="1.25"/>
<rect x="806.43" y="707.11" width="6.00" height="14.34" fill="#ff0000"/>
<line x1="815.35" y1="710.22" x2="815.35" y2="731.86" stroke="#ff0000" stroke-width="1.25"/>
<rect x="812.75" y="725.60" width="5.20" height="2.11" fill="#fff" stroke="#ff0000" stroke-width="1.2"/>
<line x1="821.27" y1="722.40" x2="821.27" y2="741.33" stroke="#ff0000" stroke-width="1.25"/>
<rect x="818.27" y="722.40" width="6.00" height="10.82" fill="#ff0000"/>
<line x1="827.20" y1="714.28" x2="827.20" y2="748.09" stroke="#ff0000" stroke-width="1.25"/>
<rect x="824.20" y="722.40" width="6.00" height="22.32" fill="#ff0000"/>
<line x1="833.12" y1="706.84" x2="833.12" y2="760.94" stroke="#000000" stroke-width="1.25"/>
<rect x="830.52" y="714.78" width="5.20" height="30.11" fill="#fff" stroke="#000000" stroke-width="1.2"/>
<line x1="839.04" y1="714.28" x2="839.04" y2="757.56" stroke="#ff0000" stroke-width="1.25"/>
<rect x="836.04" y="714.28" width="6.00" height="35.16" fill="#ff0000"/>
<line x1="844.96" y1="745.39" x2="844.96" y2="776.49" stroke="#ff0000" stroke-width="1.25"/>
<rect x="841.96" y="759.59" width="6.00" height="7.44" fill="#ff0000"/>
<line x1="850.88" y1="731.19" x2="850.88" y2="755.26" stroke="#000000" stroke-width="1.25"/>
<rect x="847.88" y="743.30" width="6.00" height="1.20" fill="#000000"/>
<line x1="856.81" y1="727.81" x2="856.81" y2="751.47" stroke="#000000" stroke-width="1.25"/>
<rect x="853.81" y="743.30" width="6.00" height="1.20" fill="#000000"/>
<line x1="862.73" y1="733.62" x2="862.73" y2="770.68" stroke="#ff0000" stroke-width="1.25"/>
<rect x="859.73" y="752.56" width="6.00" height="9.74" fill="#ff0000"/>
<line x1="868.65" y1="738.63" x2="868.65" y2="766.62" stroke="#000000" stroke-width="1.25"/>
<rect x="866.05" y="742.78" width="5.20" height="19.69" fill="#fff" stroke="#000000" stroke-width="1.2"/>
<line x1="874.57" y1="742.21" x2="874.57" y2="772.64" stroke="#000000" stroke-width="1.25"/>
<rect x="871.57" y="743.57" width="6.00" height="13.52" fill="#000000"/>
<line x1="880.49" y1="724.63" x2="880.49" y2="759.79" stroke="#000000" stroke-width="1.25"/>
<rect x="877.89" y="734.60" width="5.20" height="18.61" fill="#fff" stroke="#000000" stroke-width="1.2"/>
<line x1="886.42" y1="730.04" x2="886.42" y2="780.76" stroke="#ff0000" stroke-width="1.25"/>
<rect x="883.42" y="742.89" width="6.00" height="33.41" fill="#ff0000"/>
<line x1="892.34" y1="776.02" x2="892.34" y2="833.50" stroke="#ff0000" stroke-width="1.25"/>
<rect x="889.34" y="776.02" width="6.00" height="43.28" fill="#ff0000"/>
<line x1="898.26" y1="796.31" x2="898.26" y2="842.97" stroke="#ff0000" stroke-width="1.25"/>
<rect x="895.26" y="811.86" width="6.00" height="18.93" fill="#ff0000"/>
<line x1="904.18" y1="759.79" x2="904.18" y2="842.97" stroke="#000000" stroke-width="1.25"/>
<rect x="901.58" y="762.32" width="5.20" height="66.62" fill="#fff" stroke="#000000" stroke-width="1.2"/>
<line x1="910.10" y1="754.38" x2="910.10" y2="786.84" stroke="#000000" stroke-width="1.25"/>
<rect x="907.10" y="767.64" width="6.00" height="1.62" fill="#000000"/>
<line x1="916.03" y1="761.82" x2="916.03" y2="784.14" stroke="#000000" stroke-width="1.25"/>
<rect x="913.03" y="771.29" width="6.00" height="10.82" fill="#000000"/>
<line x1="921.95" y1="741.94" x2="921.95" y2="786.84" stroke="#000000" stroke-width="1.25"/>
<rect x="919.35" y="746.09" width="5.20" height="35.11" fill="#fff" stroke="#000000" stroke-width="1.2"/>
<line x1="927.87" y1="745.59" x2="927.87" y2="773.32" stroke="#000000" stroke-width="1.25"/>
<rect x="924.87" y="758.17" width="6.00" height="12.17" fill="#000000"/>
<line x1="933.79" y1="742.89" x2="933.79" y2="776.29" stroke="#000000" stroke-width="1.25"/>
<rect x="931.19" y="746.50" width="5.20" height="19.56" fill="#fff" stroke="#000000" stroke-width="1.2"/>
<line x1="939.71" y1="737.48" x2="939.71" y2="770.34" stroke="#000000" stroke-width="1.25"/>
<rect x="936.71" y="743.57" width="6.00" height="22.99" fill="#000000"/>
<line x1="945.64" y1="741.94" x2="945.64" y2="771.70" stroke="#000000" stroke-width="1.25"/>
<rect x="943.04" y="746.09" width="5.20" height="23.75" fill="#fff" stroke="#000000" stroke-width="1.2"/>
<line x1="951.56" y1="736.80" x2="951.56" y2="758.71" stroke="#000000" stroke-width="1.25"/>
<rect x="948.56" y="752.97" width="6.00" height="1.20" fill="#000000"/>
<line x1="957.48" y1="719.49" x2="957.48" y2="746.95" stroke="#0000ff" stroke-width="1.25"/>
<rect x="954.88" y="731.22" width="5.20" height="15.23" fill="#fff" stroke="#0000ff" stroke-width="1.2"/>
<line x1="963.40" y1="707.73" x2="963.40" y2="733.02" stroke="#0000ff" stroke-width="1.25"/>
<rect x="960.80" y="725.13" width="5.20" height="2.79" fill="#fff" stroke="#0000ff" stroke-width="1.2"/>
<line x1="969.32" y1="720.57" x2="969.32" y2="763.18" stroke="#ff0000" stroke-width="1.25"/>
<rect x="966.32" y="724.63" width="6.00" height="36.52" fill="#ff0000"/>
<line x1="975.25" y1="750.33" x2="975.25" y2="784.81" stroke="#ff0000" stroke-width="1.25"/>
<rect x="972.25" y="761.82" width="6.00" height="7.17" fill="#ff0000"/>
<line x1="981.17" y1="765.20" x2="981.17" y2="790.22" stroke="#ff0000" stroke-width="1.25"/>
<rect x="978.17" y="770.34" width="6.00" height="2.30" fill="#ff0000"/>
<line x1="987.09" y1="739.51" x2="987.09" y2="771.97" stroke="#0000ff" stroke-width="1.25"/>
<rect x="984.49" y="745.82" width="5.20" height="21.59" fill="#fff" stroke="#0000ff" stroke-width="1.2"/>
<line x1="993.01" y1="739.51" x2="993.01" y2="774.00" stroke="#ff0000" stroke-width="1.25"/>
<rect x="990.01" y="742.89" width="6.00" height="25.02" fill="#ff0000"/>
<line x1="998.93" y1="750.33" x2="998.93" y2="774.00" stroke="#000000" stroke-width="1.25"/>
<rect x="996.33" y="757.86" width="5.20" height="11.58" fill="#fff" stroke="#000000" stroke-width="1.2"/>
<line x1="1004.86" y1="730.31" x2="1004.86" y2="761.15" stroke="#0000ff" stroke-width="1.25"/>
<rect x="1002.26" y="743.79" width="5.20" height="10.09" fill="#fff" stroke="#0000ff" stroke-width="1.2"/>
<line x1="1010.78" y1="744.24" x2="1010.78" y2="761.15" stroke="#000000" stroke-width="1.25"/>
<rect x="1007.78" y="745.59" width="6.00" height="8.11" fill="#000000"/>
<line x1="1016.70" y1="741.54" x2="1016.70" y2="769.26" stroke="#ff0000" stroke-width="1.25"/>
<rect x="1013.70" y="751.00" width="6.00" height="12.17" fill="#ff0000"/>
<line x1="1022.62" y1="758.44" x2="1022.62" y2="783.46" stroke="#ff0000" stroke-width="1.25"/>
<rect x="1019.62" y="764.12" width="6.00" height="12.98" fill="#ff0000"/>
<polyline points="124.6,478.1 125.4,479.0 132.2,484.6 144.3,495.5 155.2,505.6 159.2,509.7 163.3,511.0 172.7,519.1 184.9,527.9 195.7,536.7 201.1,540.8 213.3,552.3 220.1,561.7 230.9,571.2 237.7,580.7 246.5,588.8 257.9,594.2 266.1,598.2 270.0,599.4 278.1,601.5 287.6,604.2 297.0,605.5 307.9,607.6 317.3,608.2 326.8,608.0 334.9,605.5 344.4,601.7 353.9,597.4 362.0,592.0 367.4,587.9 372.8,584.6 378.2,580.5 383.6,577.8 387.7,575.8 391.7,575.5 405.2,576.5 430.0,576.5 437.6,574.6 447.0,570.5 457.9,564.4 467.3,557.0 478.2,548.2 490.3,542.8 501.1,538.7 509.3,537.1 517.4,537.1 526.8,533.3 535.0,532.0 544.4,532.0 555.2,534.0 566.1,539.4 580.0,545.5 583.5,549.6 597.0,556.4 610.6,561.8 624.1,565.8 634.9,569.2 645.7,577.3 653.9,583.4 664.7,589.5 675.5,596.3 685.0,599.0 698.5,601.0 707.9,603.0 718.8,607.8 730.0,612.5 733.5,612.4 747.0,619.6 768.7,631.8 784.9,639.2 793.0,646.0 806.6,654.1 820.1,661.5 828.2,666.9 837.7,671.7 847.1,678.4 859.3,685.2 870.1,692.6 880.0,697.4 887.6,703.0 895.7,709.8 899.8,713.8 910.6,720.6 924.1,726.7 937.6,732.1 951.1,736.8 964.7,737.9 970.1,739.5 975.5,742.2 983.6,744.9 991.7,746.3 998.5,749.0 1005.2,749.7 1013.4,750.3 1020.8,753.0" fill="none" stroke="#ff2020" stroke-width="1.1" stroke-linejoin="round"/>
<polyline points="124.6,512.8 126.1,514.1 133.5,521.1 140.3,529.3 151.1,542.8 157.9,550.9 166.0,554.7 174.1,559.0 183.6,565.8 195.7,575.9 207.9,586.1 213.3,594.2 229.5,615.8 239.0,630.7 246.5,634.1 253.2,633.4 262.0,630.0 268.8,628.0 278.1,623.1 287.6,621.1 294.3,617.7 301.1,613.0 310.6,608.2 324.1,604.2 333.6,596.7 345.7,585.2 356.6,573.1 367.4,556.8 375.5,547.4 381.6,542.6 387.7,540.9 397.1,544.7 405.2,554.1 416.1,562.3 422.8,566.0 423.4,566.5 433.5,565.1 442.3,563.1 455.2,555.0 464.6,540.1 478.2,527.9 490.3,521.8 501.1,521.8 509.3,523.9 517.4,526.6 526.8,525.2 532.3,523.2 539.0,524.5 548.5,529.3 556.6,537.4 566.1,546.8 575.5,558.3 580.8,565.8 590.3,575.3 601.1,583.4 614.6,588.8 624.1,590.2 634.9,593.6 640.3,599.0 649.8,608.4 659.3,615.9 670.1,623.3 676.8,625.8 687.7,625.8 694.4,623.3 702.5,618.6 713.4,622.0 722.8,625.3 725.4,625.7 737.6,629.1 747.0,634.5 760.6,643.3 772.7,649.4 783.6,658.2 795.7,668.3 807.9,678.4 818.7,685.9 832.3,694.7 845.8,706.8 862.0,717.7 880.0,724.4 887.6,730.0 894.3,742.9 902.5,748.3 911.9,751.7 924.1,753.0 937.6,752.4 951.1,751.0 955.2,751.0 964.7,749.2 972.8,750.3 982.3,753.7 989.0,753.0 997.1,754.4 1005.2,753.7 1013.4,753.7 1021.5,756.4" fill="none" stroke="#222" stroke-width="1.1" stroke-dasharray="5,4.5"/>
</g></g>
<line x1="433.3" y1="438.8" x2="1050.8" y2="751.6" stroke="#c00000" stroke-width="3.05" stroke-dasharray="11.9,8.7"/>
<polyline points="319.6,943.0 323.6,931.0 330.0,935.0 335.0,922.0 342.0,914.4 348.4,914.4 358.0,899.6 365.6,892.4 372.0,913.0 377.0,903.0 382.4,918.0 388.4,950.0 400.0,971.0 407.0,975.0 412.4,970.4 418.4,973.0 424.4,966.0 430.4,944.0 437.0,950.4 442.0,943.6 449.0,931.0 454.4,932.4 460.0,913.0 465.0,911.0 472.4,925.0 477.4,917.0 485.0,931.0 490.4,946.0 495.6,938.0 501.6,943.0 507.6,953.0 513.6,957.0 519.0,961.0 525.0,945.0 531.0,935.6 537.0,952.4 542.0,961.0 550.0,968.0 561.0,988.0 567.6,979.6 579.0,985.0 584.4,994.0 591.0,978.4 596.4,975.0 602.4,977.6 608.0,967.0 614.0,969.4 619.4,970.4 626.0,954.4 643.0,987.6 650.0,990.4 656.0,987.0 661.0,973.0 667.6,974.0 673.0,985.6 679.6,964.0 685.0,953.0 691.0,956.0 697.6,935.6 703.0,943.6 710.0,959.6 714.4,964.4 726.0,970.0 732.4,954.4 738.4,966.0 744.4,969.0 750.0,973.0 756.0,983.4 762.0,979.4 768.0,975.2 774.0,982.0 779.0,980.6 784.0,985.0 790.0,992.5 797.5,996.2 803.0,983.0 809.5,988.8 821.2,994.5 826.8,1001.2 833.0,973.8 838.8,988.0 845.0,997.0 852.0,980.8 857.0,980.5 863.0,988.8 868.2,972.5 875.0,981.2 880.5,964.5 887.0,983.0 893.0,997.5 898.0,1001.2 904.5,963.2 910.8,967.5 916.2,971.8 922.0,953.8 928.0,965.0 933.8,952.5 940.0,962.0 945.8,951.8 952.0,952.0 957.0,945.5 963.2,942.0 970.0,960.0 976.2,963.8 981.2,965.0 986.8,950.8 993.0,961.2 999.5,954.2 1005.0,947.5 1011.2,953.8 1016.2,957.5 1021.2,965.5" fill="none" stroke="#222" stroke-width="1.2" stroke-linejoin="round"/>
<rect x="970.3" y="424" width="110" height="39" fill="#fff" stroke="#7f7f7f" stroke-width="1"/>
<rect x="125.6" y="893.4" width="194" height="127.6" fill="#fff" stroke="#8a8a8a" stroke-width="1"/>
</svg>
<div id="txt">
<span class="t " id="t0" style="left:779.0px;top:78.12px;font-size:22.3px;letter-spacing:0.029px;">Daily Update – August 04, 2025</span>
<span class="t sb" id="t1" style="left:106.3px;top:168.15px;font-size:21.6px;letter-spacing:0.482px;">Sugar (Oct&nbsp;&nbsp;&nbsp;‘25) – Bearish Trend / Sell at CMP / Key Resistance at 17.00</span>
<span class="t " id="t2" style="left:177.6px;top:224.24px;font-size:19.4px;letter-spacing:0.342px;"><b>Bearish Trend:</b> Sell at CMP (16.18) or on a rise to 16.36 / Trend changes above 17.00.</span>
<span class="t " id="t3" style="left:177.6px;top:260.44px;font-size:19.4px;letter-spacing:0.508px;">Stop loss for bearish trades above 16.75 / profit-booking zones at 15.25 and 14.35.</span>
<span class="t " id="t4" style="left:359.0px;top:309.20px;font-size:14.7px;letter-spacing:0.040px;">Pivot Point Analysis - Support &amp; Resistance</span>
<span class="t " id="t5" style="left:704.5px;top:309.20px;font-size:14.7px;letter-spacing:-0.175px;">Performance (% Change)</span>
<span class="t " id="t6" style="left:929.0px;top:309.20px;font-size:14.7px;letter-spacing:0.329px;">Trend &amp; Volatility</span>
<span class="t " id="t7" style="left:141.0px;top:334.20px;font-size:14.7px;letter-spacing:0.153px;">Global Commodities</span>
<span class="t " id="t8" style="left:340.6px;top:334.20px;font-size:14.7px;letter-spacing:-0.700px;">S2</span>
<span class="t " id="t9" style="left:415.3px;top:334.20px;font-size:14.7px;letter-spacing:-0.700px;">S1</span>
<span class="t " id="t10" style="left:478.6px;top:334.20px;font-size:14.7px;letter-spacing:-0.433px;">Close</span>
<span class="t " id="t11" style="left:565.2px;top:334.20px;font-size:14.7px;letter-spacing:-0.700px;">R1</span>
<span class="t " id="t12" style="left:644.5px;top:334.20px;font-size:14.7px;letter-spacing:-0.700px;">R2</span>
<span class="t " id="t13" style="left:704.5px;top:334.20px;font-size:14.7px;letter-spacing:-0.175px;">1 Day</span>
<span class="t " id="t14" style="left:768.7px;top:334.20px;font-size:14.7px;letter-spacing:-0.117px;">1 Wk</span>
<span class="t " id="t15" style="left:827.8px;top:334.20px;font-size:14.7px;letter-spacing:-0.122px;">4 Wks</span>
<span class="t " id="t16" style="left:897.0px;top:334.20px;font-size:14.7px;letter-spacing:0.038px;">Short</span>
<span class="t " id="t17" style="left:963.5px;top:334.20px;font-size:14.7px;letter-spacing:0.353px;">Major</span>
<span class="t " id="t18" style="left:1025.3px;top:334.20px;font-size:14.7px;letter-spacing:0.431px;">Volatility</span>
<span class="t " id="t19" style="left:110.0px;top:382.50px;font-size:14.7px;letter-spacing:-0.574px;">Sugar (ICE/US)</span>
<span class="t " id="t20" style="left:342.0px;top:382.50px;font-size:14.7px;color:#23a455;letter-spacing:-0.293px;">15.94</span>
<span class="t " id="t21" style="left:416.3px;top:382.50px;font-size:14.7px;color:#23a455;letter-spacing:-0.313px;">16.06</span>
<span class="t " id="t22" style="left:490.5px;top:382.50px;font-size:14.7px;letter-spacing:-0.393px;">16.18</span>
<span class="t " id="t23" style="left:569.8px;top:382.50px;font-size:14.7px;color:#e8222a;letter-spacing:-0.313px;">16.36</span>
<span class="t " id="t24" style="left:649.0px;top:382.50px;font-size:14.7px;color:#e8222a;letter-spacing:-0.353px;">16.54</span>
<span class="t " id="t25" style="left:719.0px;top:382.50px;font-size:14.7px;color:#b01f24;letter-spacing:-0.437px;">-1.04</span>
<span class="t " id="t26" style="left:782.0px;top:382.50px;font-size:14.7px;color:#b01f24;letter-spacing:-0.557px;">-0.68</span>
<span class="t " id="t27" style="left:843.4px;top:382.50px;font-size:14.7px;color:#b01f24;letter-spacing:-0.377px;">-1.22</span>
<span class="t " id="t28" style="left:897.0px;top:382.50px;font-size:14.7px;color:#b01f24;letter-spacing:-0.391px;">Down</span>
<span class="t " id="t29" style="left:964.4px;top:382.50px;font-size:14.7px;color:#b01f24;letter-spacing:-0.241px;">Down</span>
<span class="t " id="t30" style="left:1030.8px;top:382.50px;font-size:14.7px;letter-spacing:0.143px;">Normal</span>
<span class="t " id="t31" style="left:110.0px;top:1062.83px;font-size:14.0px;font-style:italic;letter-spacing:0.192px;">Please note: Top Panel: 1) The dashed black line is the 20-period EMA, </span>
<span class="t " id="t32" style="left:570.6px;top:1062.83px;font-size:14.0px;font-style:italic;letter-spacing:0.090px;">while the solid red line is the 50-period </span>
<span class="t " id="t33" style="left:816.4px;top:1062.83px;font-size:14.0px;font-style:italic;letter-spacing:0.379px;">Weighted MA; the intermediate-term trend</span>
<span class="t " id="t34" style="left:118.8px;top:1088.33px;font-size:14.0px;font-style:italic;letter-spacing:0.221px;">is bullish, when the 20-ema is higher than the 50-wma and vice versa; 2)&nbsp;&nbsp;&nbsp;‘Blue’&nbsp;&nbsp;&nbsp;bars indicate positive short-term momentum, and oscillator readings,</span>
<span class="t " id="t35" style="left:113.8px;top:1114.13px;font-size:14.0px;font-style:italic;letter-spacing:0.234px;">and suggest traders consider buy-setups;&nbsp;&nbsp;&nbsp;‘red’&nbsp;&nbsp;&nbsp;bars on the other hand indicate bearish momentum. Bottom Panel: Shows the 14-period RSI indicator.</span>
<span class="t " id="t36" style="left:107.0px;top:1156.98px;font-size:17.7px;letter-spacing:0.335px;">Disclaimer: There is a risk of loss in trading in derivatives and the report is not to be construed as investment advice. The</span>
<span class="t " id="t37" style="left:107.0px;top:1189.78px;font-size:17.7px;letter-spacing:0.380px;">information provided in this report is intended solely for informative purposes. The author, directors and other employees</span>
<span class="t " id="t38" style="left:107.0px;top:1222.78px;font-size:17.7px;letter-spacing:0.485px;">of CC Commodity Info Services LLP cannot be held responsible for the accuracy of the information presented herein or</span>
<span class="t " id="t39" style="left:107.0px;top:1255.18px;font-size:17.7px;letter-spacing:0.398px;">for the results of the positions taken based on the opinions expressed above.</span>
<span class="t " id="t40" style="left:985.0px;top:436.14px;font-size:16.2px;letter-spacing:-0.006px;">Daily Chart</span>
<span class="t " id="t41" style="left:139.9px;top:905.53px;font-size:16.1px;letter-spacing:0.207px;">Sugar (Oct&nbsp;&nbsp;&nbsp;‘25)—</span>
<span class="t " id="t42" style="left:139.9px;top:934.93px;font-size:16.1px;letter-spacing:-0.000px;">Trend remains Bearish</span>
<span class="t " id="t43" style="left:139.9px;top:964.23px;font-size:16.1px;letter-spacing:-0.216px;">UNTIL we see a close</span>
<span class="t " id="t44" style="left:139.9px;top:993.03px;font-size:16.1px;letter-spacing:-0.090px;">above 17.00.</span>
</div>
</body></html>
